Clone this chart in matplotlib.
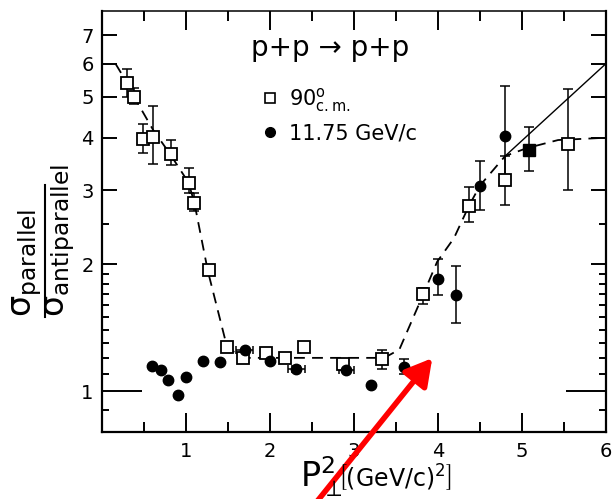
import numpy as np
import matplotlib.pyplot as plt
from matplotlib.lines import Line2D
from matplotlib.patches import FancyArrowPatch

plt.rcParams['font.family'] = ['DejaVu Sans']
plt.rcParams['mathtext.default'] = 'regular'

# 90 deg c.m. (open squares), error bounds nan = no bar
sq_x = [0.30, 0.38, 0.49, 0.61, 0.82, 1.04, 1.10, 1.27, 1.49, 1.68, 1.95,
        2.18, 2.41, 2.87, 3.33, 3.82, 4.37, 4.80, 5.545]
sq_y = [5.39, 5.01, 3.97, 4.01, 3.66, 3.12, 2.80, 1.94, 1.27, 1.20, 1.235,
        1.20, 1.27, 1.16, 1.19, 1.70, 2.76, 3.18, 3.87]
sq_lo = [5.01, 4.81, 3.68, 3.47, 3.45, 2.95, 2.68, np.nan, np.nan, np.nan, np.nan,
         np.nan, np.nan, np.nan, 1.13, 1.61, 2.52, 2.77, 3.01]
sq_hi = [5.83, 5.24, 4.31, 4.76, 3.96, 3.39, 2.96, np.nan, np.nan, np.nan, np.nan,
         np.nan, np.nan, np.nan, 1.25, 1.76, 3.06, 3.62, 5.22]

# overlapping point drawn as filled square
fsq_x = [5.08]
fsq_y = [3.74]
fsq_lo = [3.34]
fsq_hi = [4.24]

# 11.75 GeV/c (filled circles)
ci_x = [0.60, 0.70, 0.79, 0.91, 1.00, 1.20, 1.40, 1.70, 2.00, 2.315, 2.91,
        3.20, 3.60, 4.00, 4.21, 4.495, 4.80]
ci_y = [1.15, 1.12, 1.066, 0.982, 1.08, 1.18, 1.17, 1.256, 1.18, 1.13, 1.125,
        1.037, 1.14, 1.85, 1.69, 3.08, 4.04]
ci_lo = [np.nan] * 9 + [1.11, np.nan, np.nan, 1.10, 1.69, 1.45, 2.70, 3.20]
ci_hi = [np.nan] * 9 + [1.15, np.nan, np.nan, 1.19, 2.06, 1.98, 3.53, 5.32]
ci_xerr = [0, 0, 0, 0, 0, 0, 0, 0.10, 0, 0.10, 0.09, 0, 0, 0, 0, 0, 0]

# hand drawn dashed curve and solid line
curve_x = [0.16, 0.30, 0.38, 0.61, 0.81, 1.03, 1.10, 1.26, 1.49, 1.68, 3.36,
           3.54, 3.82, 3.99, 4.19, 4.37, 4.50, 4.80, 5.06, 5.43, 6.0]
curve_y = [6.0, 5.39, 5.01, 4.17, 3.66, 3.13, 2.80, 1.93, 1.27, 1.20, 1.20,
           1.256, 1.69, 2.03, 2.31, 2.76, 3.08, 3.62, 3.78, 3.95, 4.0]
line_x = [4.80, 6.0]
line_y = [3.62, 6.0]

xticks = [1, 2, 3, 4, 5, 6]
yticks = [1, 2, 3, 4, 5, 6, 7]
yminor = [0.9, 1.1, 1.2, 1.3, 1.4, 1.5, 1.6, 1.7, 1.8, 1.9, 2.5]


def bars(x, y, lo, hi):
    x, y, lo, hi = map(np.asarray, (x, y, lo, hi))
    m = ~np.isnan(lo)
    return x[m], y[m], np.vstack([y[m] - lo[m], hi[m] - y[m]])


fig = plt.figure(figsize=(6.13, 4.99), dpi=100)
ax = fig.add_axes([102 / 613, 67 / 499, 504 / 613, 421 / 499])

ax.plot(curve_x, curve_y, color='black', lw=1.3, dashes=(6, 4), zorder=2)
ax.plot(line_x, line_y, color='black', lw=1.0, zorder=2)

ex, ey, eyerr = bars(sq_x, sq_y, sq_lo, sq_hi)
ax.errorbar(ex, ey, yerr=eyerr, fmt='none', ecolor='black', elinewidth=1.1,
            capsize=3.5, capthick=1.1, zorder=3)
ex, ey, eyerr = bars(fsq_x, fsq_y, fsq_lo, fsq_hi)
ax.errorbar(ex, ey, yerr=eyerr, fmt='none', ecolor='black', elinewidth=1.1,
            capsize=3.5, capthick=1.1, zorder=3)
ex, ey, eyerr = bars(ci_x, ci_y, ci_lo, ci_hi)
ax.errorbar(ex, ey, yerr=eyerr, fmt='none', ecolor='black', elinewidth=1.1,
            capsize=3.5, capthick=1.1, zorder=3)
xe = np.asarray(ci_xerr)
m = xe > 0
ax.errorbar(np.asarray(ci_x)[m], np.asarray(ci_y)[m], xerr=xe[m], fmt='none',
            ecolor='black', elinewidth=1.1, capsize=3, capthick=1.1, zorder=3)

ax.plot(sq_x, sq_y, 's', ms=8, mfc='white', mec='black', mew=1.3, zorder=4)
ax.plot(fsq_x, fsq_y, 's', ms=8, mfc='black', mec='black', zorder=4)
ax.plot(ci_x, ci_y, 'o', ms=7.5, color='black', zorder=4)

ax.set_yscale('log')
ax.set_xlim(0, 6)
ax.set_ylim(0.8, 8)
ax.set_xticks(xticks)
ax.set_xticklabels([str(t) for t in xticks])
ax.set_xticks(np.arange(0.5, 6, 1.0), minor=True)
ax.set_yticks(yticks)
ax.set_yticklabels([str(t) for t in yticks])
ax.set_yticks(yminor, minor=True)
ax.yaxis.set_minor_formatter(plt.NullFormatter())

ax.tick_params(axis='both', which='both', direction='in', top=True, right=True,
               width=1.4, labelsize=14)
ax.tick_params(axis='x', which='major', length=14, pad=7)
ax.tick_params(axis='x', which='minor', length=7)
ax.tick_params(axis='y', which='major', length=11, pad=6)
ax.tick_params(axis='y', which='minor', length=5)
for t in ax.yaxis.get_major_ticks():
    if t.get_loc() == 1:
        t.tick1line.set_markersize(29)
        t.tick2line.set_markersize(29)
for t in ax.yaxis.get_minor_ticks():
    if round(t.get_loc(), 2) in (0.9, 1.5, 2.5):
        t.tick1line.set_markersize(9)
        t.tick2line.set_markersize(9)

for s in ('left', 'bottom', 'right'):
    ax.spines[s].set_linewidth(1.6)
ax.spines['top'].set_linewidth(1.1)

ax.text(0.452, 0.893, 'p+p → p+p', transform=ax.transAxes, fontsize=20,
        ha='center', va='baseline')

handles = [Line2D([], [], ls='none', marker='s', ms=7, mfc='white', mec='black', mew=1.2),
           Line2D([], [], ls='none', marker='o', ms=7, color='black')]
labels = [r'$90^{o}_{c.m.}$', '11.75 GeV/c']
ax.legend(handles, labels, loc='upper left', bbox_to_anchor=(0.317, 0.822),
          frameon=False, fontsize=15, handlelength=0.8, handletextpad=0.5,
          labelspacing=0.45, borderaxespad=0, borderpad=0)

# y label as a stacked fraction
fig.text(0.044, 0.365, r'$\sigma_{parallel}$', rotation=90, fontsize=24,
         ha='center', va='bottom')
fig.text(0.098, 0.365, r'$\sigma_{antiparallel}$', rotation=90, fontsize=24,
         ha='center', va='bottom')
fig.add_artist(Line2D([0.073, 0.073], [0.365, 0.63], color='black', lw=1.5,
                      transform=fig.transFigure))

# x label
fig.text(300 / 613, 0.024, r'$P_{\perp}^{2}$', fontsize=24, ha='left', va='baseline')
fig.text(338 / 613, 0.024, r'$\left[(GeV/c)^{2}\right]$', fontsize=17,
         ha='left', va='baseline')

arrow = FancyArrowPatch((315 / 613, -0.01), (434 / 613, 143 / 499),
                        transform=fig.transFigure, color='#ff0000', lw=4,
                        arrowstyle='-|>,head_length=0.8,head_width=0.45',
                        mutation_scale=20)
fig.add_artist(arrow)

fig.savefig('out.png', dpi=100)
